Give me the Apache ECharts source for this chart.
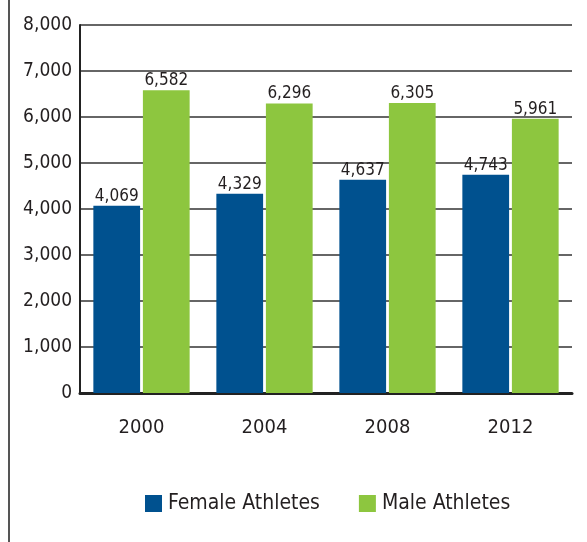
<!DOCTYPE html>
<html>
<head>
<meta charset="utf-8">
<script src="https://cdn.jsdelivr.net/npm/echarts@6/dist/echarts.min.js"></script>
<style>
  html, body { margin: 0; padding: 0; background: #fff; }
  #chart { width: 587px; height: 542px; }
</style>
</head>
<body>
<div id="chart"></div>
<script>
// Olympic athletes by gender
const years = ['2000', '2004', '2008', '2012'];
const femaleAthletes = [4069, 4329, 4637, 4743];
const maleAthletes = [6582, 6296, 6305, 5961];
const seriesNames = ['Female Athletes', 'Male Athletes'];

const FONT = "'DejaVu Sans Condensed', 'Liberation Sans Narrow', sans-serif";
const TEXT = '#231f20';
const chart = echarts.init(document.getElementById('chart'));

const fmt = v => v.toLocaleString('en-US');

const labelStyle = {
  show: true,
  position: 'top',
  distance: 1,
  color: TEXT,
  fontFamily: FONT,
  fontSize: 17,
  formatter: p => fmt(p.value)
};

chart.setOption({
  animation: false,
  backgroundColor: '#fff',
  grid: { left: 80, right: 15, top: 25, bottom: 149 },
  graphic: [{
    type: 'line',
    shape: { x1: 9, y1: 0, x2: 9, y2: 542 },
    style: { stroke: '#555', lineWidth: 2 }
  }],
  legend: {
    left: 140,
    top: 488,
    itemWidth: 17,
    itemHeight: 17,
    itemGap: 39,
    icon: 'rect',
    textStyle: { color: TEXT, fontFamily: FONT, fontSize: 21, padding: [0, 0, 0, 1] },
    data: seriesNames
  },
  xAxis: {
    type: 'category',
    data: years,
    axisLine: { lineStyle: { color: '#222', width: 3 } },
    axisTick: { show: false },
    axisLabel: { color: TEXT, fontFamily: FONT, fontSize: 20, margin: 25 }
  },
  yAxis: {
    type: 'value',
    min: 0,
    max: 8000,
    interval: 1000,
    axisLine: { show: true, lineStyle: { color: '#222', width: 2 } },
    axisTick: { show: false },
    splitLine: { lineStyle: { color: '#666', width: 2 } },
    axisLabel: { color: TEXT, fontFamily: FONT, fontSize: 19, margin: 8, formatter: v => fmt(v) }
  },
  series: [
    {
      name: seriesNames[0],
      type: 'bar',
      data: femaleAthletes,
      barWidth: '38%',
      barGap: '6%',
      itemStyle: { color: '#00518F' },
      label: labelStyle
    },
    {
      name: seriesNames[1],
      type: 'bar',
      data: maleAthletes,
      barWidth: '38%',
      barGap: '6%',
      itemStyle: { color: '#8DC63F' },
      label: labelStyle
    }
  ]
});
</script>
</body>
</html>
